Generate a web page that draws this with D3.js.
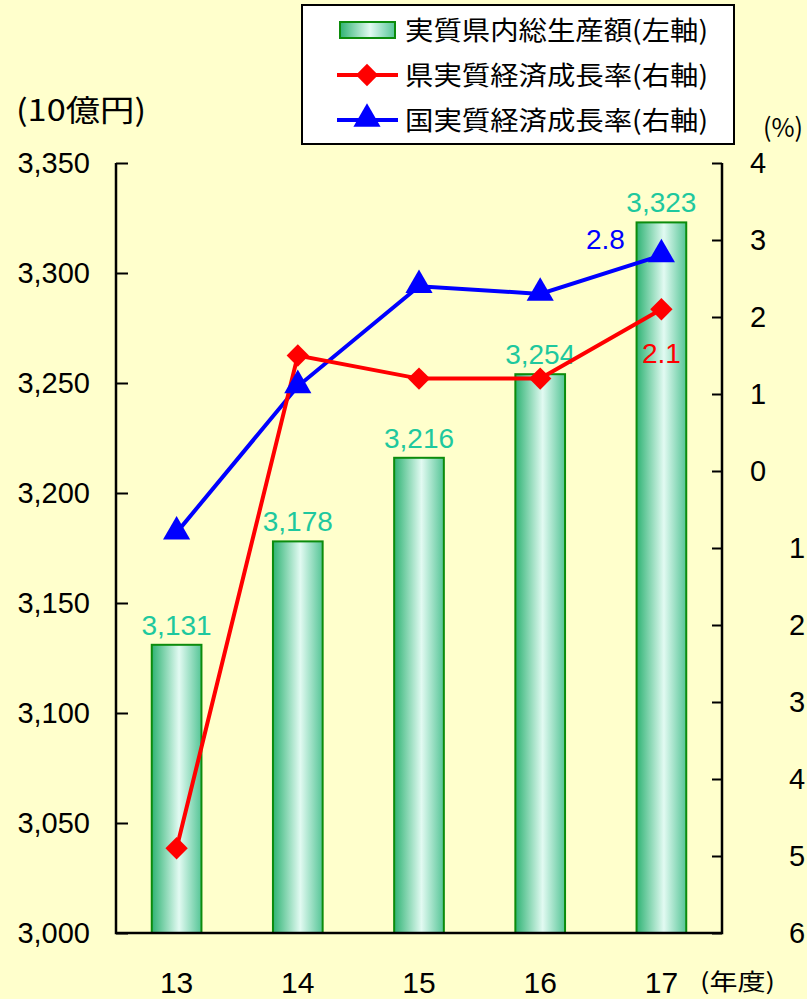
<!DOCTYPE html>
<html>
<head>
<meta charset="utf-8">
<script src="https://cdn.jsdelivr.net/npm/d3@7"></script>
<style>
  html, body { margin: 0; padding: 0; background: #ffffcc; }
  svg { display: block; }
  text { font-family: "Liberation Sans", Arial, "Noto Sans CJK JP", sans-serif; }
  .jp { font-family: "Noto Sans CJK JP", "Liberation Sans", sans-serif; }
</style>
</head>
<body>
<svg width="807" height="999"></svg>
<script>
// data
const years = ["13", "14", "15", "16", "17"];
const gdp = [3131, 3178, 3216, 3254, 3323];          // 10億円, left axis
const prefGrowth = [-4.9, 1.5, 1.2, 1.2, 2.1];         // %, right axis
const natGrowth = [-0.8, 1.1, 2.4, 2.3, 2.8];          // %, right axis
const leftTicks = [3000, 3050, 3100, 3150, 3200, 3250, 3300, 3350];
const rightTicks = [4, 3, 2, 1, 0, -1, -2, -3, -4, -5, -6];
const legendLabels = ["実質県内総生産額(左軸)", "県実質経済成長率(右軸)", "国実質経済成長率(右軸)"];

const svg = d3.select("svg");
const plotL = 116, plotR = 722, plotT = 163, plotB = 933;

svg.append("rect").attr("width", 807).attr("height", 999).attr("fill", "#ffffcc");

const defs = svg.append("defs");
const grad = defs.append("linearGradient").attr("id", "barGrad")
  .attr("x1", "0%").attr("x2", "100%").attr("y1", "0%").attr("y2", "0%");
grad.append("stop").attr("offset", "0%").attr("stop-color", "#2fb374");
grad.append("stop").attr("offset", "55%").attr("stop-color", "#e2faf2");
grad.append("stop").attr("offset", "100%").attr("stop-color", "#55c596");

const x = d3.scaleBand().domain(years).range([plotL, plotR]).paddingInner(0.59).paddingOuter(0.295);
const yL = d3.scaleLinear().domain([3000, 3350]).range([plotB, plotT]);
const yR = d3.scaleLinear().domain([-6, 4]).range([plotB, plotT]);
const cx = d => x(d) + x.bandwidth() / 2;

// bars
svg.append("g").selectAll("rect")
  .data(years)
  .join("rect")
  .attr("x", d => x(d))
  .attr("y", (d, i) => yL(gdp[i]))
  .attr("width", x.bandwidth())
  .attr("height", (d, i) => plotB - yL(gdp[i]))
  .attr("fill", "url(#barGrad)")
  .attr("stroke", "#0c8c0c")
  .attr("stroke-width", 2);

svg.append("g").selectAll("text")
  .data(years)
  .join("text")
  .attr("x", d => cx(d))
  .attr("y", (d, i) => yL(gdp[i]) - 10)
  .attr("text-anchor", "middle")
  .attr("fill", "#1ec89e")
  .style("font-size", "28px")
  .text((d, i) => d3.format(",")(gdp[i]));

// axes
const axL = svg.append("g").attr("transform", `translate(${plotL},0)`)
  .call(d3.axisRight(yL).tickValues(leftTicks).tickSize(12).tickFormat(""));
axL.select(".domain").remove();
axL.selectAll("line").attr("stroke", "#000").attr("stroke-width", 2);

const axR = svg.append("g").attr("transform", `translate(${plotR},0)`)
  .call(d3.axisLeft(yR).tickValues(rightTicks).tickSize(10).tickFormat(""));
axR.select(".domain").remove();
axR.selectAll("line").attr("stroke", "#000").attr("stroke-width", 2);

svg.append("path")
  .attr("d", `M${plotL},${plotT}V${plotB}H${plotR}V${plotT}`)
  .attr("fill", "none").attr("stroke", "#000").attr("stroke-width", 2.5);

svg.append("g").selectAll("text")
  .data(leftTicks)
  .join("text")
  .attr("x", 90)
  .attr("y", d => yL(d) + 10)
  .attr("text-anchor", "end")
  .style("font-size", "29px")
  .text(d => d3.format(",")(d));

svg.append("g").selectAll("text")
  .data(rightTicks)
  .join("text")
  .attr("x", d => d >= 0 ? 750 : 789)
  .attr("y", d => yR(d) + 10)
  .style("font-size", "29px")
  .text(d => Math.abs(d));

svg.append("g").selectAll("text")
  .data(years)
  .join("text")
  .attr("x", d => cx(d))
  .attr("y", 993)
  .attr("text-anchor", "middle")
  .style("font-size", "30px")
  .text(d => d);

svg.append("text").attr("class", "jp").attr("x", 700).attr("y", 990)
  .attr("textLength", 75).attr("lengthAdjust", "spacingAndGlyphs")
  .style("font-size", "23px").text("(年度)");
svg.append("text").attr("class", "jp").attr("x", 16).attr("y", 121)
  .attr("textLength", 130).attr("lengthAdjust", "spacingAndGlyphs")
  .style("font-size", "30px").text("(10億円)");
svg.append("text").attr("class", "jp").attr("x", 763).attr("y", 137)
  .attr("textLength", 40).attr("lengthAdjust", "spacingAndGlyphs")
  .style("font-size", "26px").text("(%)");

// lines
const line = d3.line().x((d, i) => cx(years[i])).y(d => yR(d));

svg.append("path").datum(natGrowth)
  .attr("d", line).attr("fill", "none").attr("stroke", "#0000ff").attr("stroke-width", 4);
svg.append("path").datum(prefGrowth)
  .attr("d", line).attr("fill", "none").attr("stroke", "#ff0000").attr("stroke-width", 4);

const tri = d3.symbol().type(d3.symbolTriangle).size(320);
const dia = d3.symbol().type(d3.symbolSquare).size(250);

svg.append("g").selectAll("path")
  .data(natGrowth)
  .join("path")
  .attr("transform", (d, i) => `translate(${cx(years[i])},${yR(d) - 1})`)
  .attr("d", tri).attr("fill", "#0000ff");

svg.append("g").selectAll("path")
  .data(prefGrowth)
  .join("path")
  .attr("transform", (d, i) => `translate(${cx(years[i])},${yR(d)}) rotate(45)`)
  .attr("d", dia).attr("fill", "#ff0000");

// labels on last points
const last = years.length - 1;
svg.append("text")
  .attr("x", cx(years[last]) - 56).attr("y", yR(natGrowth[last]) - 6)
  .attr("text-anchor", "middle").attr("fill", "#0000ff").style("font-size", "28px")
  .text(natGrowth[last].toFixed(1));
svg.append("text")
  .attr("x", cx(years[last])).attr("y", yR(prefGrowth[last]) + 54)
  .attr("text-anchor", "middle").attr("fill", "#ff0000").style("font-size", "28px")
  .text(prefGrowth[last].toFixed(1));

// legend
const legend = svg.append("g");
legend.append("rect")
  .attr("x", 302).attr("y", 5).attr("width", 432).attr("height", 139)
  .attr("fill", "#fff").attr("stroke", "#000").attr("stroke-width", 2);

const rowY = [30, 75, 120];
legend.append("rect")
  .attr("x", 340).attr("y", rowY[0] - 8).attr("width", 55).attr("height", 16)
  .attr("fill", "url(#barGrad)").attr("stroke", "#0c8c0c").attr("stroke-width", 2);

legend.append("line").attr("x1", 337).attr("x2", 398).attr("y1", rowY[1]).attr("y2", rowY[1])
  .attr("stroke", "#ff0000").attr("stroke-width", 4);
legend.append("path").attr("transform", `translate(367,${rowY[1]}) rotate(45)`).attr("d", dia).attr("fill", "#ff0000");

legend.append("line").attr("x1", 337).attr("x2", 398).attr("y1", rowY[2]).attr("y2", rowY[2])
  .attr("stroke", "#0000ff").attr("stroke-width", 4);
legend.append("path").attr("transform", `translate(367,${rowY[2] - 1})`).attr("d", tri).attr("fill", "#0000ff");

legend.selectAll("text.lab")
  .data(legendLabels)
  .join("text")
  .attr("class", "jp lab")
  .attr("x", 405)
  .attr("y", (d, i) => rowY[i] + 10)
  .attr("textLength", 303)
  .attr("lengthAdjust", "spacingAndGlyphs")
  .style("font-size", "26px")
  .text(d => d);
</script>
</body>
</html>
